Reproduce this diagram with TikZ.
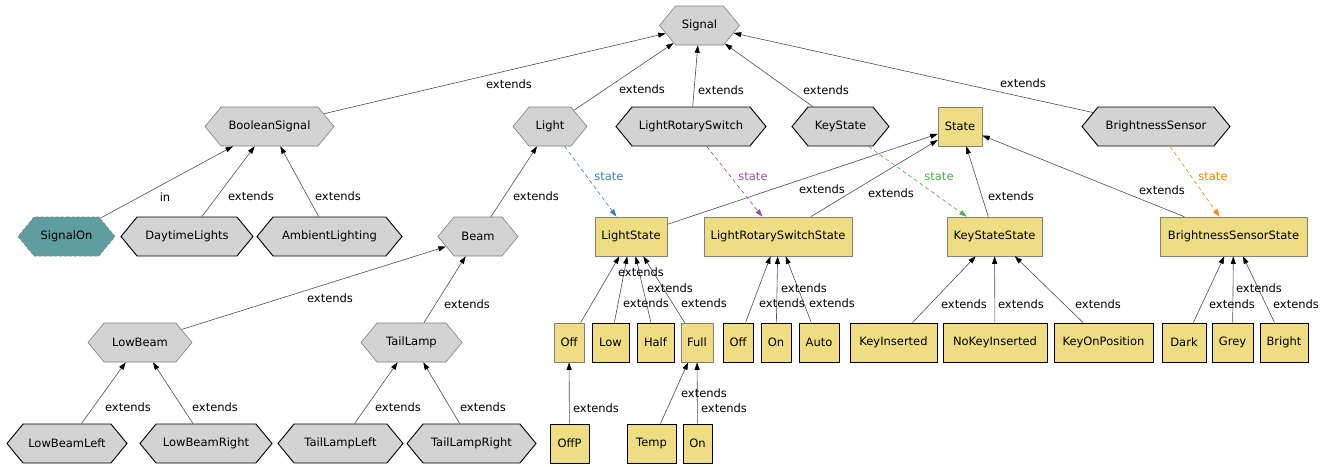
\documentclass[tikz,border=0pt]{standalone}
\usepackage{fontspec}
\setmainfont{DejaVu Sans}
\usetikzlibrary{shapes.symbols,arrows.meta}
\definecolor{hexfill}{HTML}{D3D3D3}
\definecolor{boxfill}{HTML}{EEDD82}
\definecolor{tealfill}{HTML}{5F9EA0}
\definecolor{edgecol}{HTML}{4D4D4D}
\definecolor{innerb}{HTML}{808080}
\definecolor{sblue}{HTML}{377EB8}
\definecolor{spurple}{HTML}{984EA3}
\definecolor{sgreen}{HTML}{4DAF4A}
\definecolor{sorange}{HTML}{FF7F00}
\tikzset{
  base/.style={font=\fontsize{11.5}{13}\selectfont, minimum height=39pt, inner xsep=2pt, inner ysep=2pt},
  hexa/.style={base, shape=signal, signal to=west and east, signal pointer angle=101, fill=hexfill},
  ybox/.style={base, rectangle, fill=boxfill},
  innerline/.style={draw=innerb, line width=0.6pt},
  leafline/.style={draw=black, line width=0.9pt},
  ext/.style={draw=edgecol, line width=0.6pt, -{Triangle[length=7.5pt,width=5pt,color=black]}},
  st/.style={line width=0.6pt, dash pattern=on 4pt off 3pt, -{Triangle[length=7.5pt,width=5pt]}},
  lbl/.style={font=\fontsize{11.5}{13}\selectfont, inner sep=0pt},
}
\begin{document}
\begin{tikzpicture}[x=1pt,y=-1pt]
\useasboundingbox (0,0) rectangle (1336,466);
% row 1
\node[hexa,innerline,minimum width=80pt] (signal) at (699.5,25.5) {Signal};
% row 2
\node[hexa,innerline,minimum width=129pt] (boolsig) at (269.5,126.5) {BooleanSignal};
\node[hexa,innerline,minimum width=74pt] (light) at (550,126.5) {Light};
\node[hexa,leafline,minimum width=150pt] (lrs) at (691,126.5) {LightRotarySwitch};
\node[hexa,leafline,minimum width=97pt] (keystate) at (840.5,126.5) {KeyState};
\node[ybox,innerline,minimum width=44pt] (state) at (960,126.5) {State};
\node[hexa,leafline,minimum width=148pt] (bsensor) at (1156,126.5) {BrightnessSensor};
% row 3
\node[hexa,draw=innerb,line width=0.6pt,dash pattern=on 3pt off 2pt,fill=tealfill,minimum width=97pt] (signalon) at (66.5,236.5) {SignalOn};
\node[hexa,leafline,minimum width=132pt] (daytime) at (187,236.5) {DaytimeLights};
\node[hexa,leafline,minimum width=145pt] (ambient) at (329.5,236.5) {AmbientLighting};
\node[hexa,innerline,minimum width=80pt] (beam) at (478,236.5) {Beam};
\node[ybox,innerline,minimum width=72pt] (lightstate) at (631,236.5) {LightState};
\node[ybox,innerline,minimum width=148pt] (lrss) at (778,236.5) {LightRotarySwitchState};
\node[ybox,innerline,minimum width=95pt] (kss) at (994.5,236.5) {KeyStateState};
\node[ybox,innerline,minimum width=147pt] (bss) at (1233.5,236.5) {BrightnessSensorState};
% row 4
\node[hexa,innerline,minimum width=104pt] (lowbeam) at (140,342.5) {LowBeam};
\node[hexa,innerline,minimum width=101pt] (taillamp) at (411.5,342.5) {TailLamp};
\node[ybox,innerline,minimum width=30pt] (off) at (569,342.5) {Off};
\node[ybox,leafline,minimum width=37pt] (low) at (610.5,342.5) {Low};
\node[ybox,leafline,minimum width=37pt] (half) at (655.5,342.5) {Half};
\node[ybox,innerline,minimum width=32pt] (full) at (697,342.5) {Full};
\node[ybox,leafline,minimum width=30pt] (offb) at (738,342.5) {Off};
\node[ybox,leafline,minimum width=30pt] (on) at (776,342.5) {On};
\node[ybox,leafline,minimum width=40pt] (auto) at (819,342.5) {Auto};
\node[ybox,leafline,minimum width=87pt] (keyins) at (893.5,342.5) {KeyInserted};
\node[ybox,leafline,minimum width=104pt] (nokey) at (995,342.5) {NoKeyInserted};
\node[ybox,leafline,minimum width=99pt] (keyon) at (1103.5,342.5) {KeyOnPosition};
\node[ybox,leafline,minimum width=44pt] (dark) at (1184,342.5) {Dark};
\node[ybox,leafline,minimum width=41pt] (grey) at (1232.5,342.5) {Grey};
\node[ybox,leafline,minimum width=48pt] (bright) at (1284,342.5) {Bright};
% row 5
\node[hexa,leafline,minimum width=120pt] (lbl) at (67,443.5) {LowBeamLeft};
\node[hexa,leafline,minimum width=132pt] (lbr) at (206,443.5) {LowBeamRight};
\node[hexa,leafline,minimum width=125pt] (tll) at (340.5,443.5) {TailLampLeft};
\node[hexa,leafline,minimum width=129pt] (tlr) at (471.5,443.5) {TailLampRight};
\node[ybox,leafline,minimum width=39pt] (offp) at (569.5,443.5) {OffP};
\node[ybox,leafline,minimum width=49pt] (temp) at (651.5,443.5) {Temp};
\node[ybox,leafline,minimum width=29pt] (onb) at (697.5,443.5) {On};
% extends edges
\draw[ext] (boolsig) -- (signal);
\draw[ext] (light) -- (signal);
\draw[ext] (lrs) -- (signal);
\draw[ext] (keystate) -- (signal);
\draw[ext] (bsensor) -- (signal);
\draw[ext] (signalon) -- (boolsig);
\draw[ext] (daytime) -- (boolsig);
\draw[ext] (ambient) -- (boolsig);
\draw[ext] (beam) -- (light);
\draw[ext] (lightstate) -- (state);
\draw[ext] (lrss) -- (state);
\draw[ext] (kss) -- (state);
\draw[ext] (bss) -- (state);
\draw[ext] (lowbeam) -- (beam);
\draw[ext] (taillamp) -- (beam);
\draw[ext] (lbl) -- (lowbeam);
\draw[ext] (lbr) -- (lowbeam);
\draw[ext] (tll) -- (taillamp);
\draw[ext] (tlr) -- (taillamp);
\draw[ext] (off) -- (lightstate);
\draw[ext] (low) -- (lightstate);
\draw[ext] (half) -- (lightstate);
\draw[ext] (full) -- (lightstate);
\draw[ext] (offb) -- (lrss);
\draw[ext] (on) -- (lrss);
\draw[ext] (auto) -- (lrss);
\draw[ext] (keyins) -- (kss);
\draw[ext] (nokey) -- (kss);
\draw[ext] (keyon) -- (kss);
\draw[ext] (dark) -- (bss);
\draw[ext] (grey) -- (bss);
\draw[ext] (bright) -- (bss);
\draw[ext] (offp) -- (off);
\draw[ext] (temp) -- (full);
\draw[ext] (onb) -- (full);
% state edges
\draw[st,sblue] (light) -- (lightstate);
\draw[st,spurple] (lrs) -- (lrss);
\draw[st,sgreen] (keystate) -- (kss);
\draw[st,sorange] (bsensor) -- (bss);
% labels
\node[lbl] (e1) at (509,84) {extends};
\node[lbl] (e2) at (642,89) {extends};
\node[lbl] (e3) at (721,90) {extends};
\node[lbl] (e4) at (826,90) {extends};
\node[lbl] (e5) at (1023,83) {extends};
\node[lbl] (e6) at (165,197) {in};
\node[lbl] (e7) at (251,196) {extends};
\node[lbl] (e8) at (338,196) {extends};
\node[lbl] (e9) at (536,196) {extends};
\node[lbl,text=sblue] (s1) at (609,177) {state};
\node[lbl,text=spurple] (s2) at (753,177) {state};
\node[lbl,text=sgreen] (s3) at (939,177) {state};
\node[lbl,text=sorange] (s4) at (1213,177) {state};
\node[lbl] (e10) at (822,189) {extends};
\node[lbl] (e11) at (891,193) {extends};
\node[lbl] (e12) at (1011,196) {extends};
\node[lbl] (e13) at (1162,190) {extends};
\node[lbl] (e14) at (330,298) {extends};
\node[lbl] (e15) at (467,304) {extends};
\node[lbl] (e16) at (128,407) {extends};
\node[lbl] (e17) at (215,407) {extends};
\node[lbl] (e18) at (398,407) {extends};
\node[lbl] (e19) at (483,407) {extends};
\node[lbl] (e20) at (641,272) {extends};
\node[lbl] (e21) at (670,288) {extends};
\node[lbl] (e22) at (646,303) {extends};
\node[lbl] (e23) at (704,303) {extends};
\node[lbl] (e24) at (804,288) {extends};
\node[lbl] (e25) at (782,303) {extends};
\node[lbl] (e26) at (832,303) {extends};
\node[lbl] (e27) at (704,393) {extends};
\node[lbl] (e28) at (724,408) {extends};
\node[lbl] (e29) at (596,408) {extends};
\node[lbl] (e30) at (964,304) {extends};
\node[lbl] (e31) at (1021,304) {extends};
\node[lbl] (e32) at (1098,304) {extends};
\node[lbl] (e33) at (1259,288) {extends};
\node[lbl] (e34) at (1232,304) {extends};
\node[lbl] (e35) at (1296,304) {extends};
\end{tikzpicture}
\end{document}
